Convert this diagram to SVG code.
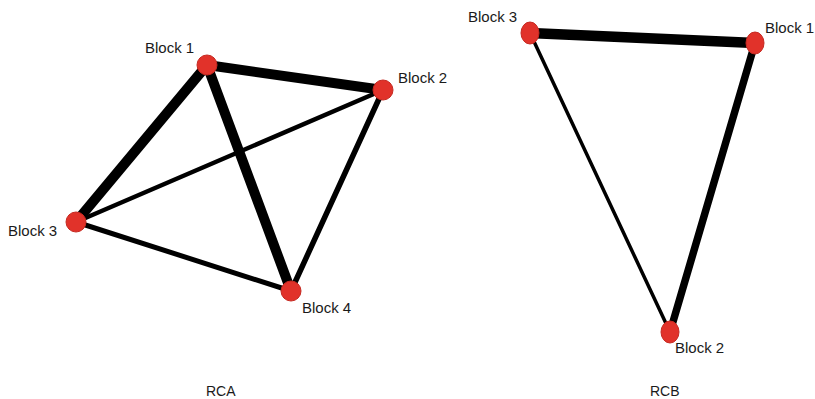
<svg xmlns="http://www.w3.org/2000/svg" width="815" height="399" viewBox="0 0 815 399">
  <style>
    .edge { stroke: #000; stroke-linecap: round; fill: none; }
    .node { fill: #e1322a; stroke: #c62a22; stroke-width: 1; }
    .lbl { font-family: "Liberation Sans", Arial, sans-serif; font-size: 15px; fill: #1a1a1a; }
    .cap { font-family: "Liberation Sans", Arial, sans-serif; font-size: 14px; fill: #1a1a1a; }
  </style>
  <rect width="815" height="399" fill="#fff"/>

  <!-- RCA network: edges -->
  <g id="rca-edges">
    <line class="edge" x1="207" y1="65" x2="383" y2="90" stroke-width="10"/>
    <line class="edge" x1="207" y1="65" x2="76" y2="222" stroke-width="10"/>
    <line class="edge" x1="207" y1="65" x2="291" y2="291" stroke-width="10"/>
    <line class="edge" x1="383" y1="90" x2="76" y2="222" stroke-width="4.5"/>
    <line class="edge" x1="383" y1="90" x2="291" y2="291" stroke-width="5.5"/>
    <line class="edge" x1="76" y1="222" x2="291" y2="291" stroke-width="5"/>
  </g>

  <!-- RCA network: nodes -->
  <g id="rca-block1">
    <circle class="node" cx="207" cy="65" r="10"/>
    <text class="lbl" x="145" y="53">Block 1</text>
  </g>
  <g id="rca-block2">
    <circle class="node" cx="383" cy="90" r="10"/>
    <text class="lbl" x="398" y="83">Block 2</text>
  </g>
  <g id="rca-block3">
    <circle class="node" cx="76" cy="222" r="10"/>
    <text class="lbl" x="8" y="236">Block 3</text>
  </g>
  <g id="rca-block4">
    <circle class="node" cx="291" cy="291" r="10"/>
    <text class="lbl" x="302" y="313">Block 4</text>
  </g>

  <!-- RCB network: edges -->
  <g id="rcb-edges">
    <line class="edge" x1="530" y1="33" x2="755" y2="43" stroke-width="10.5"/>
    <line class="edge" x1="755" y1="43" x2="670" y2="332" stroke-width="7.5"/>
    <line class="edge" x1="530" y1="33" x2="670" y2="332" stroke-width="3.5"/>
  </g>

  <!-- RCB network: nodes -->
  <g id="rcb-block3">
    <ellipse class="node" cx="530" cy="33" rx="9" ry="11"/>
    <text class="lbl" x="468" y="22">Block 3</text>
  </g>
  <g id="rcb-block1">
    <ellipse class="node" cx="755" cy="43" rx="9" ry="11"/>
    <text class="lbl" x="765" y="33">Block 1</text>
  </g>
  <g id="rcb-block2">
    <ellipse class="node" cx="670" cy="332" rx="9" ry="11"/>
    <text class="lbl" x="675" y="353">Block 2</text>
  </g>

  <!-- Panel captions -->
  <text class="cap" x="206" y="396">RCA</text>
  <text class="cap" x="650" y="396">RCB</text>
</svg>
